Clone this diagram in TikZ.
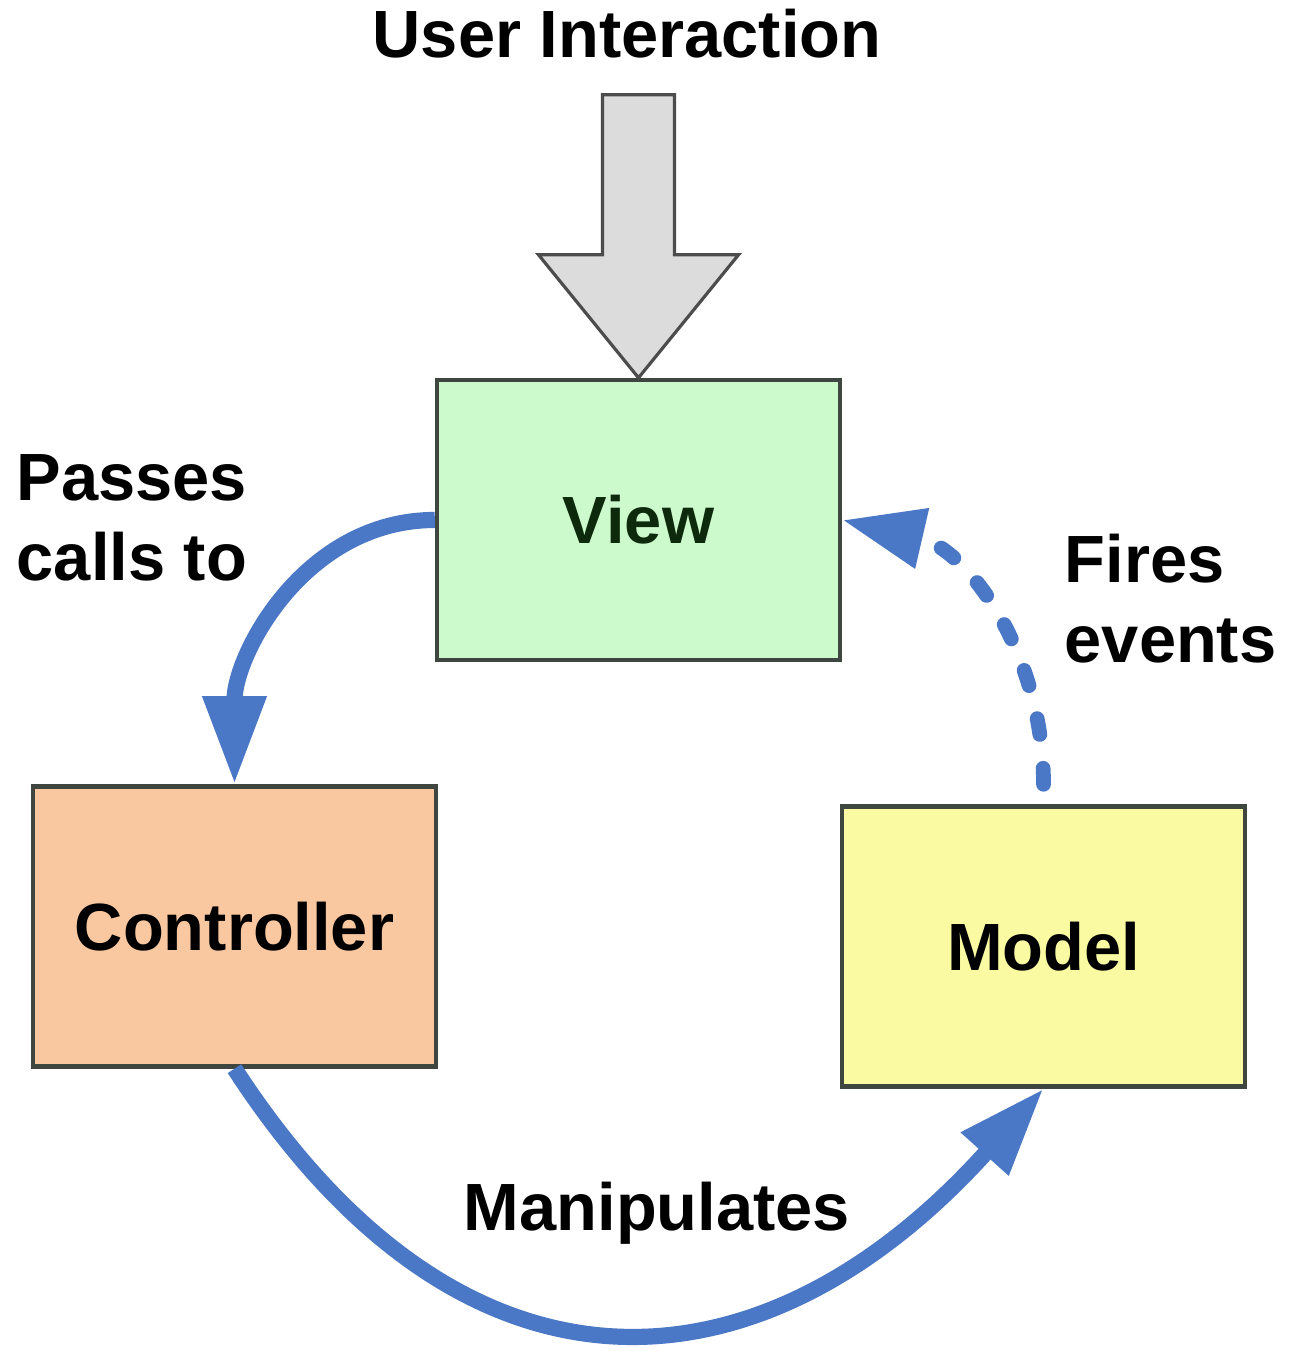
\documentclass[tikz,border=0pt]{standalone}
\usepackage{fontspec}
\setmainfont{Liberation Sans}
\usetikzlibrary{arrows.meta}
\definecolor{flowblue}{HTML}{4A78C6}
\definecolor{viewgreen}{HTML}{CCFACC}
\definecolor{viewtext}{HTML}{0D2A0D}
\definecolor{ctrlpeach}{HTML}{FAC8A0}
\definecolor{modelyellow}{HTML}{FAFAA2}
\definecolor{boxline}{HTML}{3F453F}
\definecolor{usergray}{HTML}{DCDCDC}

\begin{document}
\begin{tikzpicture}[x=0.01cm,y=0.01cm,
	every node/.style={font=\fontsize{19}{22.8}\selectfont\bfseries,inner sep=0pt},
	box/.style={draw=boxline,line width=1.2pt,minimum width=4.03cm,minimum height=2.8cm},
	flow/.style={flowblue,line width=4.6pt,-{Triangle[length=0.88cm,width=0.6cm]}}]
	\useasboundingbox[fill=white] (0,0) rectangle (1310,1358);

	%BOXES
	\node[box,fill=viewgreen,text=viewtext] (view) at (638.5,838) {View};
	\node[box,fill=ctrlpeach] (ctrl) at (234.5,431.5) {Controller};
	\node[box,fill=modelyellow] (model) at (1043.5,411.5) {Model};

	%USER INTERACTION ARROW
	\node[anchor=base] (user) at (627,1300) {User Interaction};
	\draw[draw=black!70,fill=usergray,line width=0.9pt,shift={(view.north)}] (0,0) -- (-100,123) -- (-36,123) -- (-36,283) -- (36,283) -- (36,123) -- (100,123) -- cycle;

	%LABELS
	\node[anchor=west,align=left] (passes) at (16,840) {Passes\\calls to};
	\node[anchor=west,align=left] (fires) at (1064,759) {Fires\\events};
	\node[anchor=base] (manip) at (657,127) {Manipulates};

	%CONNECTORS
	\draw[flow] (view.west) to[out=180,in=90] (ctrl.north);
	\draw[flow] (ctrl.south) to[out=-57,in=-132,looseness=1.33] (model.south);
	\draw[flow,line width=4.2pt,dash pattern=on 0.16cm off 0.34cm,line cap=round,-{Triangle[length=0.82cm,width=0.58cm]}] ([yshift=0.2cm]model.north) to[out=90,in=-13] (view.east);
\end{tikzpicture}
\end{document}
